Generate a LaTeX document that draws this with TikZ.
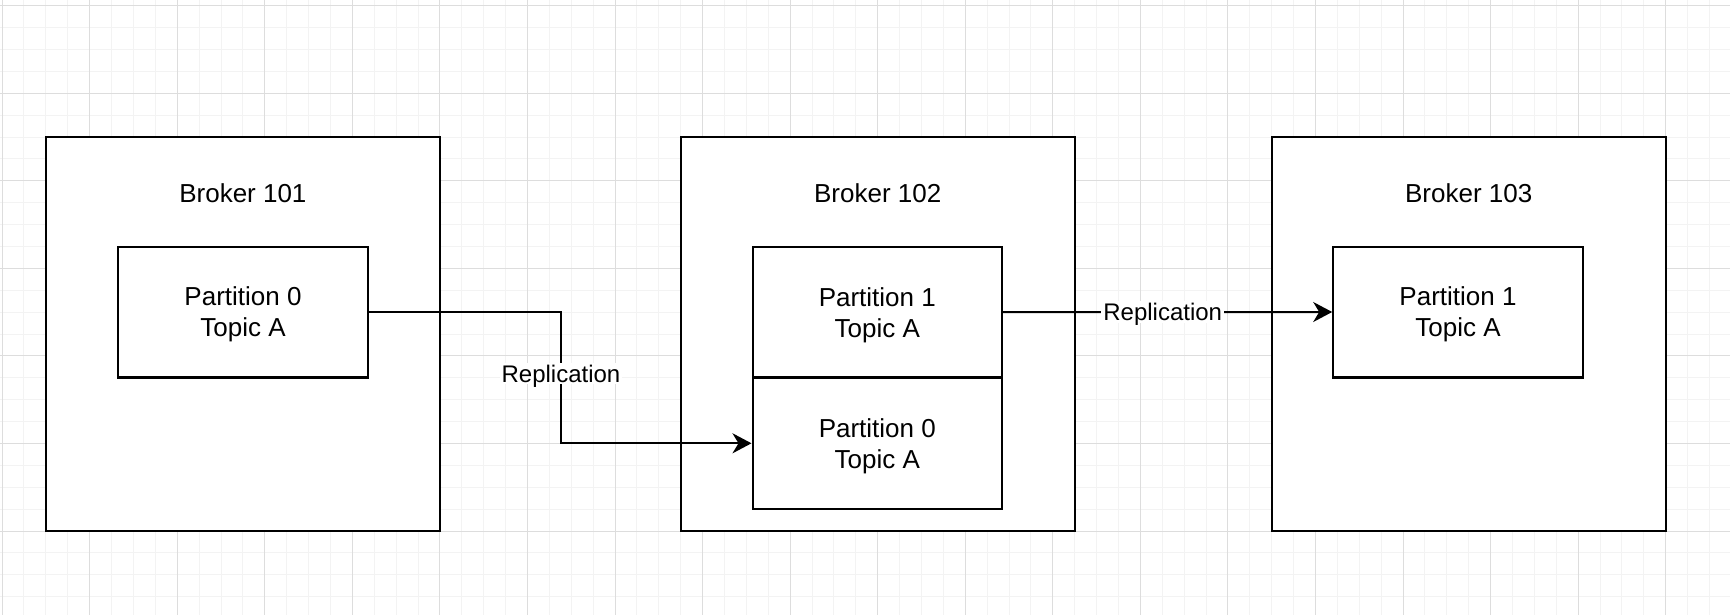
\documentclass[tikz,border=0pt]{standalone}
\usepackage{fontspec}
\setmainfont{Liberation Sans}
\usetikzlibrary{arrows.meta}
\definecolor{gridminor}{HTML}{F3F3F3}
\definecolor{gridmajor}{HTML}{DDDDDD}
\tikzset{
    broker/.style={draw, line width=1.1pt, fill=white, minimum width=197pt, minimum height=197pt},
    partition/.style={draw, line width=1.1pt, fill=white, minimum width=124.7pt, minimum height=65.4pt,
        align=center, text depth=0pt, font=\fontsize{13}{15.5}\selectfont},
    title/.style={font=\fontsize{13}{15.5}\selectfont},
    repl/.style={line width=1pt, -{Stealth[length=9.5pt, width=10pt, inset=3pt]}},
    lbl/.style={fill=white, inner sep=1pt, text depth=0pt, font=\fontsize{12}{14}\selectfont}
}
\begin{document}
\begin{tikzpicture}[x=0.5pt, y=-0.5pt]
    \useasboundingbox (0,0) rectangle (1730,615);
    \fill[white] (0,0) rectangle (1730,615);
    % background grid
    \foreach \i in {0,...,78} \draw[gridminor, line width=0.5pt] ({2.1+21.89*\i},0) -- ({2.1+21.89*\i},615);
    \foreach \j in {0,...,27} \draw[gridminor, line width=0.5pt] (0,{5.7+21.89*\j}) -- (1730,{5.7+21.89*\j});
    \foreach \i in {0,4,...,76} \draw[gridmajor, line width=0.5pt] ({2.1+21.89*\i},0) -- ({2.1+21.89*\i},615);
    \foreach \j in {0,4,...,24} \draw[gridmajor, line width=0.5pt] (0,{5.7+21.89*\j}) -- (1730,{5.7+21.89*\j});

    % brokers
    \node[broker] (b101) at (242.9,334) {};
    \node[broker] (b102) at (877.7,334) {};
    \node[broker] (b103) at (1468.7,334) {};
    \node[title] (t101) at (242.9,193) {Broker 101};
    \node[title] (t102) at (877.7,193) {Broker 102};
    \node[title] (t103) at (1468.7,193) {Broker 103};

    % partitions
    \node[partition] (p0a) at (243,312) {Partition 0\\Topic A};
    \node[partition] (p1b) at (877.3,312.1) {Partition 1\\Topic A};
    \node[partition] (p0b) at (877.3,443.3) {Partition 0\\Topic A};
    \node[partition] (p1c) at (1458,312) {Partition 1\\Topic A};

    % replication
    \coordinate (elbow) at (561,0);
    \draw[repl] (p0a.east) -- (p0a.east -| elbow) -- node[lbl, pos=0.47]{Replication} (elbow |- p0b.west) -- (p0b.west);
    \draw[repl] (p1b.east) -- node[lbl, pos=0.485]{Replication} (p1c.west);
\end{tikzpicture}
\end{document}
